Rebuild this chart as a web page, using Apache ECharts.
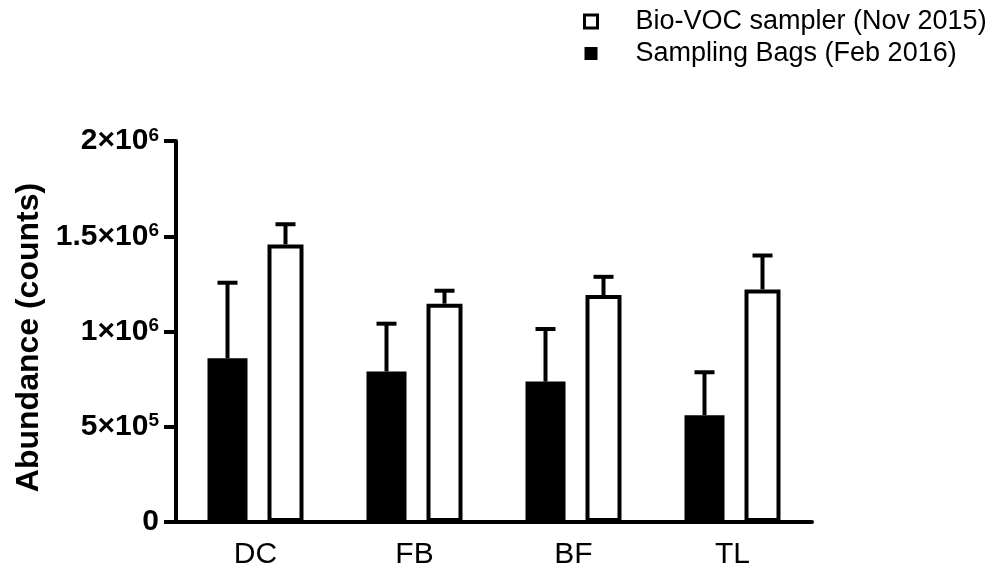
<!DOCTYPE html>
<html>
<head>
<meta charset="utf-8">
<script src="https://cdn.jsdelivr.net/npm/echarts@6/dist/echarts.min.js"></script>
<style>
  html, body { margin: 0; padding: 0; background: #fff; }
  #main { width: 999px; height: 577px; }
</style>
</head>
<body>
<div id="main"></div>
<script>
var categories = ['DC', 'FB', 'BF', 'TL'];

// Sampling Bags (Feb 2016), black bars
var bagsMean = [860000, 790000, 737000, 561000];
var bagsErr = [396000, 251000, 276000, 225000];

// Bio-VOC sampler (Nov 2015), open bars
var vocMean = [1457000, 1146000, 1191000, 1221000];
var vocErr = [106000, 68000, 96000, 178000];

// y tick labels: [base, exponent]
var yTickLabels = [['0', ''], ['5×10', '5'], ['1×10', '6'], ['1.5×10', '6'], ['2×10', '6']];

var FONT = 'Liberation Sans, Arial, sans-serif';

var chart = echarts.init(document.getElementById('main'));

function errorData(mean, err) {
  return mean.map(function (m, i) { return [i, m, m + err[i]]; });
}

function errorRender(offset) {
  return function (params, api) {
    var p0 = api.coord([api.value(0), api.value(1)]);
    var p1 = api.coord([api.value(0), api.value(2)]);
    var x = p0[0] + offset;
    var st = { stroke: '#000', lineWidth: 4 };
    return {
      type: 'group',
      children: [
        { type: 'line', shape: { x1: x, y1: p0[1], x2: x, y2: p1[1] }, style: st },
        { type: 'line', shape: { x1: x - 10, y1: p1[1], x2: x + 10, y2: p1[1] }, style: st }
      ]
    };
  };
}

var option = {
  backgroundColor: '#fff',
  animation: false,
  textStyle: { fontFamily: FONT },
  legend: {
    orient: 'vertical',
    left: 583,
    top: 8,
    padding: 0,
    itemWidth: 13,
    itemHeight: 13,
    itemGap: 5,
    textStyle: { fontSize: 27, color: '#000', fontFamily: FONT, padding: [0, 0, 0, 33] },
    data: [
      { name: 'Bio-VOC sampler (Nov 2015)', icon: 'rect', itemStyle: { color: '#fff', borderColor: '#000', borderWidth: 3 } },
      { name: 'Sampling Bags (Feb 2016)', icon: 'rect', itemStyle: { color: '#000', borderWidth: 0 } }
    ]
  },
  grid: { left: 176, right: 187, top: 141, bottom: 55 },
  xAxis: {
    type: 'category',
    data: categories,
    axisLine: { lineStyle: { color: '#000', width: 4 } },
    axisTick: { alignWithLabel: true, length: 10, lineStyle: { color: '#000', width: 4 } },
    axisLabel: { fontSize: 30, color: '#000', margin: 18, fontFamily: FONT }
  },
  yAxis: {
    type: 'value',
    min: 0,
    max: 2000000,
    interval: 500000,
    name: 'Abundance (counts)',
    nameLocation: 'middle',
    nameRotate: 90,
    nameGap: 130,
    nameTextStyle: { fontSize: 32, fontWeight: 'bold', color: '#000', fontFamily: FONT, padding: [0, 12, 0, 0] },
    splitLine: { show: false },
    axisLine: { show: true, lineStyle: { color: '#000', width: 4 } },
    axisTick: { show: true, length: 12, lineStyle: { color: '#000', width: 4 } },
    axisLabel: {
      margin: 17,
      formatter: function (v) {
        var t = yTickLabels[Math.round(v / 500000)];
        return t[1] ? '{b|' + t[0] + '}{s|' + t[1] + '}' : '{b|' + t[0] + '}';
      },
      rich: {
        b: { fontSize: 30, fontWeight: 'bold', color: '#000', fontFamily: FONT, lineHeight: 30 },
        s: { fontSize: 19, fontWeight: 'bold', color: '#000', fontFamily: FONT, verticalAlign: 'top', lineHeight: 19 }
      }
    }
  },
  series: [
    {
      name: 'Sampling Bags (Feb 2016)',
      type: 'bar',
      data: bagsMean,
      barWidth: 40,
      barGap: '50%',
      itemStyle: { color: '#000' }
    },
    {
      name: 'Bio-VOC sampler (Nov 2015)',
      type: 'bar',
      data: vocMean,
      barWidth: 36,
      itemStyle: { color: '#fff', borderColor: '#000', borderWidth: 4 }
    },
    {
      type: 'custom',
      z: 5,
      renderItem: errorRender(-28),
      data: errorData(bagsMean, bagsErr)
    },
    {
      type: 'custom',
      z: 5,
      renderItem: errorRender(30),
      data: errorData(vocMean, vocErr)
    }
  ]
};

chart.setOption(option);
</script>
</body>
</html>
